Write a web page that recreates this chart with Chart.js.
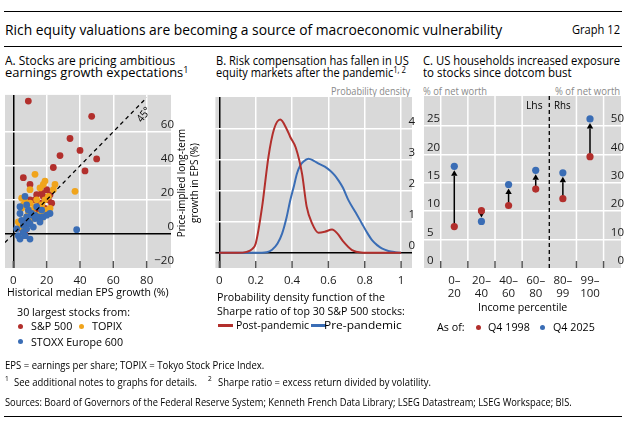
<!DOCTYPE html>
<html>
<head>
<meta charset="utf-8">
<script src="https://cdn.jsdelivr.net/npm/chart.js@4.4.1/dist/chart.umd.min.js"></script>
<style>
  body { margin: 0; width: 626px; height: 423px; position: relative; overflow: hidden; background: #fff;
         font-family: 'Open Sans', 'Noto Sans', sans-serif; color: #000; }
  .t { position: absolute; white-space: nowrap; transform-origin: left center; transform: scaleX(0.87); }
  .r { transform-origin: right center; }
  .grey { color: #8a8a8a; }
  .rule { position: absolute; left: 4px; width: 618px; border-top: 1.5px solid #000; }
  .dot { position: absolute; width: 5px; height: 5px; border-radius: 50%; }
  .dash { position: absolute; width: 15px; height: 2.5px; }
  canvas { position: absolute; }
  sup { font-size: 70%; vertical-align: 0; position: relative; top: -0.45em; }
</style>
</head>
<body>
<div class="rule" style="top:11px"></div>
<div class="t" data-w="497" style="left:5px;top:21px;font-size:14.5px;line-height:18px">Rich equity valuations are becoming a source of macroeconomic vulnerability</div>
<div class="t r" data-w="48" style="right:6px;top:22px;font-size:12.5px;line-height:16px">Graph 12</div>
<div class="rule" style="top:45.5px"></div>

<!-- panel titles -->
<div class="t" data-w="170" style="left:5px;top:54px;font-size:12.5px;line-height:14px">A. Stocks are pricing ambitious</div>
<div class="t" data-w="183" style="left:5px;top:66px;font-size:12.5px;line-height:14px">earnings growth expectations<sup>1</sup></div>
<div class="t" data-w="193" style="left:216px;top:54px;font-size:12.5px;line-height:14px">B. Risk compensation has fallen in US</div>
<div class="t" data-w="190" style="left:216px;top:66px;font-size:12.5px;line-height:14px">equity markets after the pandemic<sup>1, 2</sup></div>
<div class="t" data-w="197" style="left:423px;top:54px;font-size:12.5px;line-height:14px">C. US households increased exposure</div>
<div class="t" data-w="149" style="left:423px;top:66px;font-size:12.5px;line-height:14px">to stocks since dotcom bust</div>

<!-- axis unit labels -->
<div class="t r grey" data-w="79" style="right:216px;top:84px;font-size:11px;line-height:14px">Probability density</div>
<div class="t grey" data-w="64" style="left:423px;top:84px;font-size:11px;line-height:14px">% of net worth</div>
<div class="t r grey" data-w="65" style="right:6px;top:84px;font-size:11px;line-height:14px">% of net worth</div>

<canvas id="chartA" width="176" height="205" style="left:0;top:85px"></canvas>
<canvas id="chartB" width="206" height="205" style="left:210px;top:85px"></canvas>
<canvas id="chartC" width="211" height="220" style="left:415px;top:85px"></canvas>

<div class="t" data-w="17" style="left:526px;top:98px;font-size:11.5px;line-height:14px">Lhs</div>
<div class="t" data-w="17" style="left:554px;top:98px;font-size:11.5px;line-height:14px">Rhs</div>
<div style="position:absolute;left:143px;top:114px;font-size:11px;line-height:13px;white-space:nowrap;transform:translate(-50%,-50%) rotate(-52deg) scaleX(0.9)">45°</div>
<div style="position:absolute;left:187px;top:183px;font-size:11px;line-height:13px;text-align:center;white-space:nowrap;transform:translate(-50%,-50%) rotate(-90deg) scaleX(0.9)">Price-implied long-term<br>growth in EPS (%)</div>

<!-- legend A -->
<div class="t" data-w="162" style="left:7px;top:285px;font-size:11.5px;line-height:14px">Historical median EPS growth (%)</div>
<div class="t" data-w="113" style="left:17px;top:305px;font-size:11.5px;line-height:14px">30 largest stocks from:</div>
<div class="dot" style="left:17.5px;top:323.8px;background:#b22f2c"></div>
<div class="t" data-w="41" style="left:31px;top:319px;font-size:11.5px;line-height:14px">S&amp;P 500</div>
<div class="dot" style="left:79px;top:323.8px;background:#f0a41c"></div>
<div class="t" data-w="30" style="left:92px;top:319px;font-size:11.5px;line-height:14px">TOPIX</div>
<div class="dot" style="left:17.5px;top:339.2px;background:#3a6db5"></div>
<div class="t" data-w="92" style="left:31px;top:335px;font-size:11.5px;line-height:14px">STOXX Europe 600</div>

<!-- legend B -->
<div class="t" data-w="168" style="left:217px;top:290px;font-size:11.5px;line-height:14px">Probability density function of the</div>
<div class="t" data-w="188" style="left:217px;top:304px;font-size:11.5px;line-height:14px">Sharpe ratio of top 30 S&amp;P 500 stocks:</div>
<div class="dash" style="left:218px;top:324px;background:#b22f2c"></div>
<div class="t" data-w="73" style="left:236px;top:318px;font-size:11.5px;line-height:14px">Post-pandemic</div>
<div class="dash" style="left:311px;top:324px;background:#3a6db5"></div>
<div class="t" data-w="78" style="left:324px;top:318px;font-size:11.5px;line-height:14px">Pre-pandemic</div>

<!-- legend C -->
<div class="t" data-w="89" style="left:478px;top:300px;font-size:11.5px;line-height:14px">Income percentile</div>
<div class="t" data-w="28" style="left:437px;top:320px;font-size:11.5px;line-height:14px">As of:</div>
<div class="dot" style="left:476px;top:325px;background:#b22f2c"></div>
<div class="t" data-w="42" style="left:488px;top:320px;font-size:11.5px;line-height:14px">Q4 1998</div>
<div class="dot" style="left:540px;top:325px;background:#3a6db5"></div>
<div class="t" data-w="42" style="left:553px;top:320px;font-size:11.5px;line-height:14px">Q4 2025</div>

<!-- notes -->
<div class="t" data-w="259" style="left:5px;top:358px;font-size:10.5px;line-height:14px">EPS = earnings per share; TOPIX = Tokyo Stock Price Index.</div>
<div class="t" style="left:5px;top:373px;font-size:7.5px;line-height:10px">1</div>
<div class="t" data-w="183" style="left:14px;top:375px;font-size:10.5px;line-height:14px">See additional notes to graphs for details.</div>
<div class="t" style="left:208px;top:373px;font-size:7.5px;line-height:10px">2</div>
<div class="t" data-w="213" style="left:218px;top:375px;font-size:10.5px;line-height:14px">Sharpe ratio = excess return divided by volatility.</div>
<div class="t" data-w="567" style="left:5px;top:395px;font-size:10.5px;line-height:14px">Sources: Board of Governors of the Federal Reserve System; Kenneth French Data Library; LSEG Datastream; LSEG Workspace; BIS.</div>
<div class="rule" style="top:415.5px"></div>

<script>
// Panel A: historical median EPS growth (x) vs price-implied growth (y), in %
const spX = [9, 47, 34, 40, 28, 50, 24, 43, 6, 10, 20, 14, 22, 18, 10, 13, 16, 19, 13, 15, 12, 8, 5, 7, 7, 21, 17, 11, 9, 23];
const spY = [78, 69, 56, 49, 46, 44, 39, 37, 33, 29, 26, 23, 23, 22, 20, 20, 18, 15, 15, 13, 12, 6, 3, 2, -1, 20, 24, 10, 8, 18];
const topixX = [13, 19, 18, 25, 37, 16, 10, 5, 7, 19, 17, 22, 5, 10, 13, 9, 15, 3, 12, 17, 20, 10, 14, 8, 6, 21, 11, 16, 24, 4];
const topixY = [35, 31, 29, 29, 25, 27, 26, 21, 19, 20, 17, 15, 15, 18, 16, 13, 11, 7, 12, 12, 14, 14, 20, 10, 17, 22, 9, 8, 26, 4];
const stoxxX = [7, 4, 8, 4, 8, 11, 13, 15, 18, 22, 9, 10, 6, 3, 4, 7, 10, 38, 14, 12, 5, 9, 16, 6, 11, 2, 8, 13, 20, 17];
const stoxxY = [22, 16, 17, 12, 10, 12, 9, 10, 10, 12, 7, 6, 5, -1, -3, -1, -3, 2.5, 16, 4, 8, 14, 7, 1, 11, 3, 3, 11, 11, 14];
const diagA = [-5, 80]; // 45 degree line ends
const xTicksA = [0, 20, 40, 60, 80];
const yTicksA = [-20, 0, 20, 40, 60];

// Panel B: density of Sharpe ratios
const postX = [0, 0.1, 0.15, 0.18, 0.2, 0.235, 0.27, 0.3, 0.335, 0.37, 0.39, 0.42, 0.455, 0.48, 0.51, 0.545, 0.58, 0.62, 0.65, 0.68, 0.73, 0.78, 0.85, 1];
const postY = [0, 0, 0.03, 0.12, 0.3, 1.48, 3.1, 3.98, 4.3, 4.0, 3.74, 3.4, 2.55, 1.5, 0.95, 0.65, 0.68, 0.75, 0.62, 0.38, 0.09, 0.01, 0, 0];
const preX = [0, 0.2, 0.26, 0.29, 0.32, 0.345, 0.37, 0.39, 0.41, 0.427, 0.445, 0.463, 0.49, 0.52, 0.546, 0.58, 0.61, 0.635, 0.656, 0.68, 0.71, 0.75, 0.784, 0.81, 0.84, 0.87, 0.894, 0.93, 0.967, 1];
const preY = [0, 0, 0.02, 0.1, 0.3, 0.62, 1.15, 1.7, 2.15, 2.56, 2.82, 2.95, 3.04, 2.97, 2.88, 2.78, 2.65, 2.5, 2.33, 2.1, 1.7, 1.3, 0.95, 0.68, 0.41, 0.24, 0.14, 0.06, 0.02, 0];
const xTicksB = [0, 0.2, 0.4, 0.6, 0.8, 1];
const yTicksB = [0, 1, 2, 3, 4];

// Panel C: household stock holdings, % of net worth
const incomeTop = ['0–', '20–', '40–', '60–', '80–', '99–'];
const incomeBottom = ['20', '40', '60', '80', '99', '100'];
const share1998 = [7.3, 10.1, 11.0, 13.9, 24.4, 39.2];
const share2025 = [17.9, 8.2, 14.7, 17.2, 33.5, 52.5];
const axisSide = ['y', 'y', 'y', 'y', 'y1', 'y1']; // lhs / rhs
const yTicksC = [0, 5, 10, 15, 20, 25];
const y1TicksC = [0, 10, 20, 30, 40, 50];

const RED = '#b22f2c', ORANGE = '#f0a41c', BLUE = '#3a6db5', PLOT = '#d9d9d9';

Chart.defaults.font.family = "'Open Sans', 'Noto Sans', sans-serif";
Chart.defaults.font.size = 11.5;
Chart.defaults.color = '#1a1a1a';

const zip = (xs, ys) => xs.map((x, i) => ({ x: x, y: ys[i] }));
const fixTicks = values => axis => { axis.ticks = values.map(v => ({ value: v })); };
const gridFor = min => ctx => {
  const v = ctx.tick ? ctx.tick.value : null;
  if (v === 0) return '#000';
  if (v === min) return 'rgba(0,0,0,0)';
  return '#fff';
};

// grey plot area
const plotBg = {
  id: 'plotBg',
  beforeDraw(chart) {
    const { ctx, chartArea: a } = chart;
    ctx.save();
    ctx.fillStyle = PLOT;
    ctx.fillRect(a.left, a.top, a.right - a.left, a.bottom - a.top);
    ctx.restore();
  }
};

// short dark tick marks inside the bottom of the plot
const tickMarks = {
  id: 'tickMarks',
  beforeDatasetsDraw(chart, args, opts) {
    const { ctx, chartArea: a, scales } = chart;
    ctx.save();
    ctx.strokeStyle = '#555';
    ctx.lineWidth = 1.5;
    (opts.values || []).forEach(v => {
      const px = scales.x.getPixelForValue(v);
      ctx.beginPath();
      ctx.moveTo(px, a.bottom - 7);
      ctx.lineTo(px, a.bottom);
      ctx.stroke();
    });
    ctx.restore();
  }
};

const baseOptions = (pad) => ({
  responsive: false,
  animation: false,
  layout: { padding: pad },
  plugins: { legend: { display: false }, tooltip: { enabled: false } }
});

// ---- Panel A
const optsA = baseOptions({ left: 5, right: 5, top: 8, bottom: 0 });
optsA.plugins.tickMarks = { values: xTicksA };
optsA.scales = {
  x: {
    type: 'linear', min: -5, max: 94.6,
    afterBuildTicks: fixTicks(xTicksA),
    afterFit: axis => { axis.height = 22; },
    grid: { color: gridFor(-5), lineWidth: 1.5, drawTicks: false },
    border: { display: false },
    ticks: { padding: 6, autoSkip: false, maxRotation: 0 }
  },
  y: {
    position: 'right', min: -20, max: 81.6,
    afterBuildTicks: fixTicks(yTicksA),
    afterFit: axis => { axis.width = 0; },
    grid: { color: gridFor(-20), lineWidth: 1.5, drawTicks: false },
    border: { display: false },
    ticks: { mirror: true, padding: 3, labelOffset: -7, autoSkip: false,
             callback: v => (v < 0 ? '−' + Math.abs(v) : String(v)) }
  }
};
new Chart(document.getElementById('chartA'), {
  type: 'scatter',
  data: {
    datasets: [
      { label: '45°', type: 'line', data: diagA.map(v => ({ x: v, y: v })), borderColor: '#000',
        borderWidth: 1.3, borderDash: [4, 3.5], pointRadius: 0 },
      { label: 'STOXX Europe 600', data: zip(stoxxX, stoxxY), backgroundColor: BLUE, pointRadius: 3.4, borderWidth: 0 },
      { label: 'TOPIX', data: zip(topixX, topixY), backgroundColor: ORANGE, pointRadius: 3.4, borderWidth: 0 },
      { label: 'S&P 500', data: zip(spX, spY), backgroundColor: RED, pointRadius: 3.4, borderWidth: 0 }
    ]
  },
  options: optsA,
  plugins: [plotBg, tickMarks]
});

// ---- Panel B
const optsB = baseOptions({ left: 5, right: 4, top: 12, bottom: 0 });
optsB.plugins.tickMarks = { values: xTicksB };
optsB.scales = {
  x: {
    type: 'linear', min: -0.022, max: 1.06,
    afterBuildTicks: fixTicks(xTicksB),
    afterFit: axis => { axis.height = 22; },
    grid: { color: gridFor(-1), lineWidth: 1.5, drawTicks: false },
    border: { display: false },
    ticks: { padding: 6, autoSkip: false, maxRotation: 0, callback: v => String(v) }
  },
  y: {
    position: 'right', min: -0.49, max: 5.03,
    afterBuildTicks: fixTicks(yTicksB),
    afterFit: axis => { axis.width = 0; },
    grid: { color: gridFor(-1), lineWidth: 1.5, drawTicks: false },
    border: { display: false },
    ticks: { mirror: true, padding: 3, labelOffset: -7, autoSkip: false, callback: v => String(v) }
  }
};
new Chart(document.getElementById('chartB'), {
  type: 'line',
  data: {
    datasets: [
      { label: 'Post-pandemic', data: zip(postX, postY), borderColor: RED, borderWidth: 2,
        pointRadius: 0, cubicInterpolationMode: 'monotone' },
      { label: 'Pre-pandemic', data: zip(preX, preY), borderColor: BLUE, borderWidth: 2,
        pointRadius: 0, cubicInterpolationMode: 'monotone' }
    ]
  },
  options: optsB,
  plugins: [plotBg, tickMarks]
});

// ---- Panel C
const bounds = incomeTop.map((_, i) => i - 0.5).concat([incomeTop.length - 0.5]);
const splitAt = axisSide.indexOf('y1') - 0.5; // lhs / rhs divider
const incomeDecor = {
  id: 'incomeDecor',
  beforeDatasetsDraw(chart) {
    const { ctx, chartArea: a, scales } = chart;
    ctx.save();
    bounds.forEach(b => {
      const px = scales.x.getPixelForValue(b);
      ctx.beginPath();
      if (b === splitAt) {
        ctx.strokeStyle = '#000';
        ctx.lineWidth = 1.3;
        ctx.setLineDash([4, 3]);
        ctx.moveTo(px, a.top);
        ctx.lineTo(px, a.bottom);
        ctx.stroke();
        ctx.setLineDash([]);
      } else {
        ctx.strokeStyle = '#fff';
        ctx.lineWidth = 1.5;
        ctx.moveTo(px, a.top);
        ctx.lineTo(px, a.bottom);
        ctx.stroke();
        ctx.beginPath();
        ctx.strokeStyle = '#555';
        ctx.moveTo(px, a.bottom - 7);
        ctx.lineTo(px, a.bottom);
        ctx.stroke();
      }
    });
    // arrows from 1998 to 2025
    ctx.strokeStyle = '#000';
    ctx.fillStyle = '#000';
    ctx.lineWidth = 1.5;
    share1998.forEach((v, i) => {
      const ys = scales[axisSide[i]];
      const px = scales.x.getPixelForValue(i);
      const y0 = ys.getPixelForValue(v);
      const y1 = ys.getPixelForValue(share2025[i]);
      const dir = Math.sign(y1 - y0);
      const tip = y1 - dir * 4;
      const base = tip - dir * 5.5;
      ctx.beginPath();
      ctx.moveTo(px, y0);
      ctx.lineTo(px, base);
      ctx.stroke();
      ctx.beginPath();
      ctx.moveTo(px, tip);
      ctx.lineTo(px - 3.2, base);
      ctx.lineTo(px + 3.2, base);
      ctx.closePath();
      ctx.fill();
    });
    ctx.restore();
  }
};
const pointsFor = (vals, side) => vals.map((v, i) => ({ x: i, y: v })).filter((p, i) => axisSide[i] === side);
const optsC = baseOptions({ left: 9, right: 5, top: 11, bottom: 0 });
optsC.scales = {
  x: {
    type: 'linear', min: -1.116, max: 6.142,
    afterBuildTicks: fixTicks(incomeTop.map((_, i) => i)),
    afterFit: axis => { axis.height = 37; },
    grid: { display: false },
    border: { display: false },
    ticks: { padding: -2, autoSkip: false, maxRotation: 0, font: { lineHeight: 1.16 },
             callback: v => [incomeTop[v], incomeBottom[v]] }
  },
  y: {
    position: 'left', min: 0, max: 30.28,
    afterBuildTicks: fixTicks(yTicksC),
    afterFit: axis => { axis.width = 0; },
    grid: { color: gridFor(0), lineWidth: 1.5, drawTicks: false },
    border: { display: false },
    ticks: { mirror: true, padding: 3, labelOffset: -7, autoSkip: false }
  },
  y1: {
    position: 'right', min: 0, max: 60.56,
    afterBuildTicks: fixTicks(y1TicksC),
    afterFit: axis => { axis.width = 0; },
    grid: { display: false },
    border: { display: false },
    ticks: { mirror: true, padding: 3, labelOffset: -7, autoSkip: false }
  }
};
optsC.scales.y.grid.color = ctx => (ctx.tick && ctx.tick.value === 0 ? 'rgba(0,0,0,0)' : '#fff');
new Chart(document.getElementById('chartC'), {
  type: 'scatter',
  data: {
    datasets: ['y', 'y1'].flatMap(side => [
      { label: 'Q4 2025', yAxisID: side, data: pointsFor(share2025, side), backgroundColor: BLUE, pointRadius: 3.6, borderWidth: 0 },
      { label: 'Q4 1998', yAxisID: side, data: pointsFor(share1998, side), backgroundColor: RED, pointRadius: 3.6, borderWidth: 0 }
    ])
  },
  options: optsC,
  plugins: [plotBg, incomeDecor]
});

// squeeze the html texts to the widths seen in the reference
function fitTexts() {
  document.querySelectorAll('[data-w]').forEach(el => {
    el.style.transform = 'none';
    const w = el.scrollWidth;
    el.style.transform = 'scaleX(' + (Number(el.dataset.w) / w).toFixed(3) + ')';
  });
}
if (document.fonts && document.fonts.ready) document.fonts.ready.then(fitTexts); else fitTexts();
fitTexts();
</script>
</body>
</html>
